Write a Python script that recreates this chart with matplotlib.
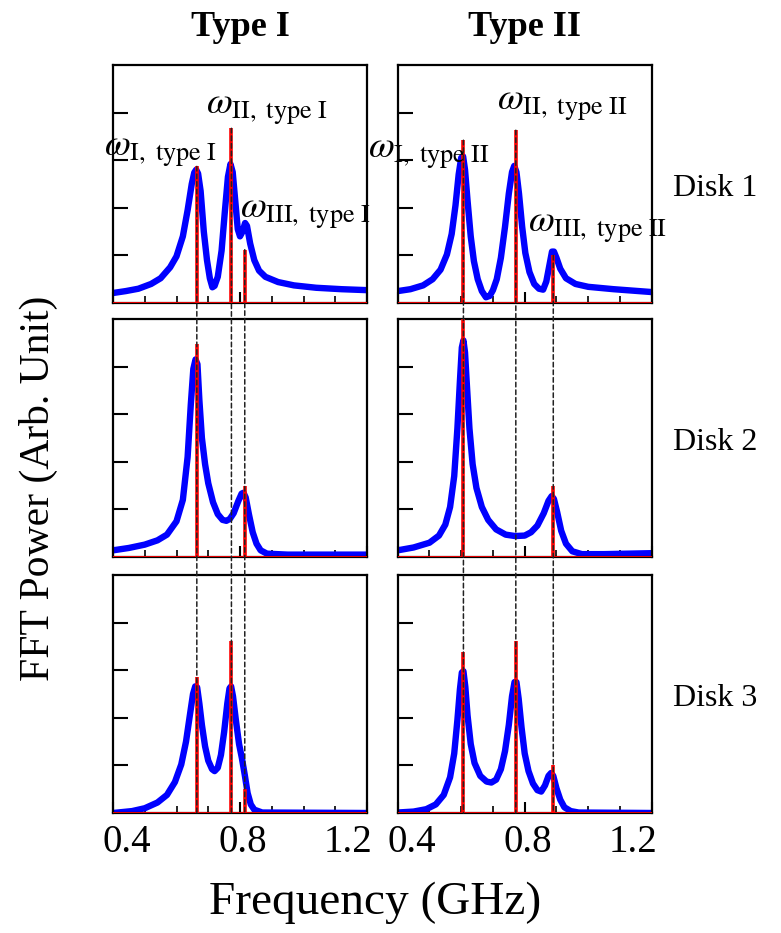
import matplotlib
matplotlib.use("Agg")
import matplotlib.pyplot as plt
import matplotlib.transforms as mtransforms
from matplotlib.patches import ConnectionPatch
from matplotlib.ticker import MultipleLocator

plt.rcParams['font.family'] = ['Liberation Serif', 'DejaVu Serif']
plt.rcParams['mathtext.fontset'] = 'stix'

# blue (broad) spectra: frequency in GHz, power in arb. units
freq_t1_d1 = [0.40, 0.44, 0.48, 0.52, 0.55, 0.58, 0.60, 0.62, 0.635, 0.648, 0.656, 0.662, 0.668,
              0.676, 0.686, 0.696, 0.705, 0.713, 0.72, 0.73, 0.742, 0.752, 0.762, 0.770, 0.777,
              0.785, 0.793, 0.80, 0.808, 0.816, 0.822, 0.832, 0.845, 0.86, 0.88, 0.92, 0.97,
              1.04, 1.12, 1.20]
pow_t1_d1 = [0.21, 0.25, 0.30, 0.40, 0.52, 0.75, 0.98, 1.40, 1.95, 2.50, 2.74, 2.80, 2.72,
             2.35, 1.50, 0.90, 0.52, 0.33, 0.36, 0.55, 1.10, 1.90, 2.65, 2.92, 2.75,
             2.15, 1.55, 1.40, 1.50, 1.68, 1.62, 1.25, 0.90, 0.68, 0.55, 0.44, 0.37,
             0.32, 0.29, 0.27]

freq_t1_d2 = [0.40, 0.45, 0.50, 0.54, 0.57, 0.60, 0.62, 0.635, 0.645, 0.653, 0.660, 0.666,
              0.672, 0.68, 0.69, 0.70, 0.715, 0.73, 0.745, 0.757, 0.768, 0.78, 0.795, 0.805,
              0.811, 0.818, 0.828, 0.84, 0.852, 0.865, 0.885, 0.95, 1.2]
pow_t1_d2 = [0.14, 0.19, 0.26, 0.35, 0.47, 0.75, 1.20, 2.10, 3.20, 3.95, 4.15, 4.05,
             3.30, 2.50, 1.95, 1.55, 1.15, 0.90, 0.78, 0.76, 0.80, 0.92, 1.18, 1.33,
             1.35, 1.25, 0.90, 0.52, 0.28, 0.14, 0.07, 0.05, 0.05]

freq_t1_d3 = [0.40, 0.46, 0.50, 0.54, 0.57, 0.595, 0.615, 0.63, 0.642, 0.652, 0.659, 0.665,
              0.672, 0.68, 0.69, 0.70, 0.712, 0.72, 0.73, 0.74, 0.75, 0.76, 0.767, 0.772,
              0.778, 0.787, 0.797, 0.806, 0.815, 0.824, 0.834, 0.845, 0.87, 1.2]
pow_t1_d3 = [0.0, 0.04, 0.10, 0.22, 0.38, 0.65, 1.02, 1.50, 2.05, 2.50, 2.66, 2.64,
             2.30, 1.85, 1.40, 1.10, 0.92, 0.88, 0.95, 1.22, 1.70, 2.30, 2.62, 2.66,
             2.45, 1.95, 1.45, 1.15, 0.80, 0.42, 0.18, 0.07, 0.01, 0.0]

freq_t2_d1 = [0.40, 0.44, 0.48, 0.51, 0.535, 0.555, 0.57, 0.582, 0.592, 0.600, 0.606, 0.612,
              0.62, 0.63, 0.64, 0.652, 0.665, 0.678, 0.69, 0.70, 0.712, 0.725, 0.738, 0.75,
              0.76, 0.767, 0.774, 0.782, 0.792, 0.802, 0.815, 0.83, 0.845, 0.858, 0.868,
              0.878, 0.886, 0.892, 0.90, 0.912, 0.93, 0.96, 1.0, 1.08, 1.2]
pow_t2_d1 = [0.25, 0.29, 0.37, 0.50, 0.70, 1.02, 1.45, 2.05, 2.70, 3.05, 3.08, 2.80,
             2.15, 1.40, 0.88, 0.50, 0.25, 0.12, 0.15, 0.27, 0.50, 0.95, 1.60, 2.30,
             2.75, 2.88, 2.75, 2.30, 1.60, 1.05, 0.65, 0.40, 0.30, 0.28, 0.45,
             0.80, 1.08, 1.08, 0.95, 0.72, 0.52, 0.40, 0.34, 0.29, 0.23]

freq_t2_d2 = [0.40, 0.45, 0.50, 0.53, 0.55, 0.565, 0.578, 0.588, 0.596, 0.602, 0.607, 0.612,
              0.618, 0.626, 0.636, 0.648, 0.665, 0.685, 0.71, 0.74, 0.77, 0.80, 0.82, 0.84,
              0.86, 0.875, 0.885, 0.892, 0.902, 0.915, 0.93, 0.95, 0.98, 1.05, 1.2]
pow_t2_d2 = [0.14, 0.20, 0.30, 0.45, 0.68, 1.05, 1.70, 2.70, 3.70, 4.40, 4.55, 4.30,
             3.60, 2.70, 1.95, 1.45, 1.05, 0.78, 0.58, 0.47, 0.44, 0.45, 0.52, 0.66,
             0.92, 1.18, 1.28, 1.22, 0.95, 0.55, 0.28, 0.12, 0.06, 0.06, 0.08]

freq_t2_d3 = [0.40, 0.45, 0.49, 0.52, 0.545, 0.565, 0.578, 0.588, 0.596, 0.602, 0.607, 0.613,
              0.62, 0.63, 0.642, 0.66, 0.68, 0.695, 0.71, 0.725, 0.738, 0.75, 0.76, 0.768,
              0.774, 0.781, 0.79, 0.80, 0.812, 0.826, 0.84, 0.852, 0.864, 0.875, 0.883,
              0.89, 0.90, 0.912, 0.925, 0.945, 0.97, 1.2]
pow_t2_d3 = [0.01, 0.03, 0.08, 0.18, 0.38, 0.75, 1.25, 1.95, 2.60, 2.95, 2.98, 2.65,
             2.05, 1.45, 1.05, 0.78, 0.66, 0.64, 0.70, 0.92, 1.30, 1.85, 2.45, 2.75,
             2.75, 2.40, 1.80, 1.25, 0.88, 0.62, 0.48, 0.45, 0.58, 0.78, 0.84,
             0.78, 0.52, 0.28, 0.12, 0.04, 0.01, 0.0]

# red (sharp) peaks: mode frequencies and heights
mode_freq_t1 = [0.664, 0.773, 0.815]
mode_freq_t2 = [0.607, 0.772, 0.890]
red_t1_d1 = [2.87, 3.67, 1.12]
red_t1_d2 = [4.47, 0.0, 1.49]
red_t1_d3 = [2.86, 3.61, 0.50]
red_t2_d1 = [3.42, 3.63, 1.0]
red_t2_d2 = [5.2, 0.0, 1.49]
red_t2_d3 = [3.39, 3.62, 1.0]

col_titles = ["Type I", "Type II"]
row_labels = ["Disk 1", "Disk 2", "Disk 3"]
mode_names = ["I", "II", "III"]

blue = [[(freq_t1_d1, pow_t1_d1), (freq_t2_d1, pow_t2_d1)],
        [(freq_t1_d2, pow_t1_d2), (freq_t2_d2, pow_t2_d2)],
        [(freq_t1_d3, pow_t1_d3), (freq_t2_d3, pow_t2_d3)]]
red = [[red_t1_d1, red_t2_d1], [red_t1_d2, red_t2_d2], [red_t1_d3, red_t2_d3]]
modes = [mode_freq_t1, mode_freq_t2]

W, H = 781, 933
fig = plt.figure(figsize=(W / 100, H / 100), dpi=100)

col_left = [113, 397.7]
col_w = 254
row_top = [65, 319, 575]
row_h = 238

axes = [[None, None] for _ in range(3)]
for r in range(3):
    for c in range(2):
        ax = fig.add_axes([col_left[c] / W, 1 - (row_top[r] + row_h) / H, col_w / W, row_h / H])
        axes[r][c] = ax
        f, p = blue[r][c]
        ax.plot(f, p, color='#0000ff', lw=4.6, solid_joinstyle='round',
                solid_capstyle='butt', zorder=2)
        ax.axhline(0, color='#ff0000', lw=2.0, zorder=3)
        ax.vlines(modes[c], 0, red[r][c], color='#ff0000', lw=2.6, zorder=3)
        ax.set_xlim(0.4, 1.2)
        ax.set_ylim(0, 5)
        ax.set_yticks([1, 2, 3, 4])
        ax.set_yticklabels([])
        ax.set_xticks([0.4, 0.8, 1.2])
        ax.xaxis.set_minor_locator(MultipleLocator(0.1))
        ax.tick_params(axis='y', direction='in', length=11, width=1.5, left=True, right=False)
        ax.tick_params(axis='x', which='major', direction='in', length=8, width=1.5, top=False)
        ax.tick_params(axis='x', which='minor', direction='in', length=5, width=1.2, top=False)
        for s in ax.spines.values():
            s.set_linewidth(1.6)
        if r < 2:
            ax.set_xticklabels([])
        else:
            ax.set_xticklabels(['0.4', '0.8', '1.2'], fontsize=28)
            ax.tick_params(axis='x', pad=8)
            labs = ax.get_xticklabels()
            for lab, dx in zip(labs, [14, 3, -19]):
                lab.set_transform(lab.get_transform() +
                                  mtransforms.ScaledTranslation(dx / 100, 0, fig.dpi_scale_trans))

# dashed guide lines through the mode frequencies, from the top row down to the bottom row
for c in range(2):
    for k, fm in enumerate(modes[c]):
        con = ConnectionPatch(xyA=(fm, red[0][c][k]), coordsA=axes[0][c].transData,
                              xyB=(fm, 0), coordsB=axes[2][c].transData,
                              color='#222222', lw=1.1, linestyle=(0, (3, 2)), zorder=5)
        fig.add_artist(con)

# mode labels in the top row
label_pos = [[(0.372, 3.08), (0.694, 3.98), (0.80, 1.78)],
             [(0.306, 3.05), (0.713, 4.05), (0.81, 1.50)]]
for c in range(2):
    for k in range(3):
        txt = r'$\omega_{\mathrm{%s,\ type\ %s}}$' % (mode_names[k], col_titles[c].split()[1])
        x, y = label_pos[c][k]
        axes[0][c].text(x, y, txt, fontsize=27, ha='left', va='baseline', zorder=6, clip_on=False)

for c in range(2):
    fig.text((col_left[c] + col_w / 2) / W, 1 - 27 / H, col_titles[c], fontsize=26,
             fontweight='bold', ha='center', va='center')
for r in range(3):
    fig.text(673 / W, 1 - (row_top[r] + row_h / 2 + 4) / H, row_labels[r], fontsize=23,
             ha='left', va='center')

fig.text(38 / W, 1 - 488 / H, 'FFT Power (Arb. Unit)', fontsize=30, rotation=90,
         ha='center', va='center')
fig.text(375 / W, 1 - 903 / H, 'Frequency (GHz)', fontsize=34, ha='center', va='center')

fig.savefig('out.png', dpi=100)
